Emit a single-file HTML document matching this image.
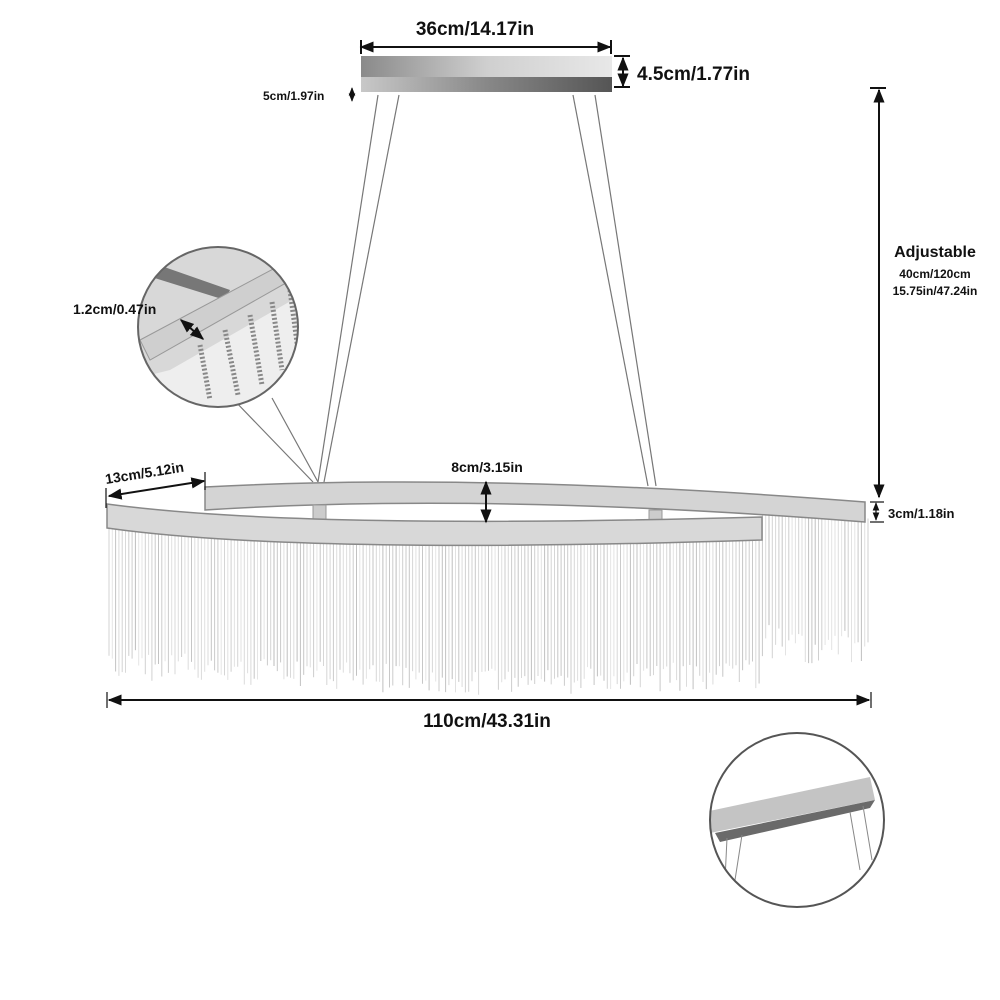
<!DOCTYPE html>
<html><head><meta charset="utf-8"><style>
html,body{margin:0;padding:0;background:#fff;width:1000px;height:1000px;overflow:hidden}
svg{display:block}
text{font-family:"Liberation Sans",sans-serif;font-weight:bold;fill:#111}
</style></head><body>
<svg id="s" width="1000" height="1000" viewBox="0 0 1000 1000" xmlns="http://www.w3.org/2000/svg">
<defs>
<marker id="a" viewBox="0 0 10 10" refX="9" refY="5" markerWidth="7" markerHeight="7" orient="auto-start-reverse"><path d="M0,1 L10,5 L0,9 z" fill="#111"/></marker>
<linearGradient id="cg" x1="0" x2="1"><stop offset="0" stop-color="#8a8a8a"/><stop offset="0.5" stop-color="#cfcfcf"/><stop offset="1" stop-color="#e8e8e8"/></linearGradient>
<linearGradient id="cb" x1="0" x2="1"><stop offset="0" stop-color="#c8c8c8"/><stop offset="0.5" stop-color="#888"/><stop offset="1" stop-color="#555"/></linearGradient>
<clipPath id="c1"><circle cx="218" cy="327" r="80"/></clipPath>
<clipPath id="c2"><circle cx="797" cy="820" r="87"/></clipPath>
</defs>
<g id="fr" stroke-width="1"></g>
<g stroke="#777" stroke-width="1.2" fill="none">
<line x1="378" y1="95" x2="318" y2="482"/><line x1="399" y1="95" x2="324" y2="482"/>
<line x1="573" y1="95" x2="648" y2="486"/><line x1="595" y1="95" x2="656" y2="486"/>
<line x1="232" y1="398" x2="313" y2="482"/><line x1="272" y1="398" x2="318" y2="482"/>
</g>
<path d="M205,487 Q485,472 865,502 L865,522 Q485,492 205,510 Z" fill="#d4d4d4" stroke="#888" stroke-width="1.5"/>
<rect x="313" y="505" width="13" height="30" fill="#ccc" stroke="#999"/>
<rect x="649" y="510" width="13" height="30" fill="#ccc" stroke="#999"/>
<path d="M107,504 Q300,530 762,517 L762,540 Q300,555 107,528 Z" fill="#d8d8d8" stroke="#888" stroke-width="1.5"/>
<rect x="361" y="56" width="251" height="22" fill="url(#cg)"/>
<rect x="361" y="77" width="251" height="15" fill="url(#cb)"/>
<g stroke="#111" stroke-width="2" fill="none">
<line x1="361" y1="47" x2="610" y2="47" marker-start="url(#a)" marker-end="url(#a)"/>
<line x1="361" y1="40" x2="361" y2="54"/><line x1="611" y1="40" x2="611" y2="54"/>
<line x1="623" y1="58" x2="623" y2="86" marker-start="url(#a)" marker-end="url(#a)"/>
<line x1="614" y1="56" x2="630" y2="56"/><line x1="614" y1="87" x2="630" y2="87"/>
<line x1="352" y1="88" x2="352" y2="101" stroke-width="1.2" marker-start="url(#a)" marker-end="url(#a)"/>
<line x1="879" y1="90" x2="879" y2="497" marker-start="url(#a)" marker-end="url(#a)"/>
<line x1="870" y1="88" x2="886" y2="88"/>
<line x1="876" y1="503" x2="876" y2="520" stroke-width="1.2" marker-start="url(#a)" marker-end="url(#a)"/>
<line x1="870" y1="502" x2="884" y2="502" stroke-width="1.2"/><line x1="870" y1="522" x2="884" y2="522" stroke-width="1.2"/>
<line x1="486" y1="482" x2="486" y2="522" marker-start="url(#a)" marker-end="url(#a)"/>
<line x1="109" y1="496" x2="204" y2="481" marker-start="url(#a)" marker-end="url(#a)"/>
<line x1="106" y1="488" x2="106" y2="508" stroke-width="1.2"/><line x1="205" y1="472" x2="205" y2="490" stroke-width="1.2"/>
<line x1="109" y1="700" x2="869" y2="700" marker-start="url(#a)" marker-end="url(#a)"/>
<line x1="107" y1="692" x2="107" y2="708" stroke-width="1.2"/><line x1="871" y1="692" x2="871" y2="708" stroke-width="1.2"/>
</g>
<g clip-path="url(#c1)">
<rect x="130" y="240" width="180" height="180" fill="#eee"/>
<path d="M130,270 L230,240 L310,240 L310,290 L170,370 L130,380 Z" fill="#d8d8d8"/>
<path d="M150,262 L230,290 L225,300 L145,275 Z" fill="#777"/>
<path d="M140,340 L290,260 L300,275 L150,360 Z" fill="#cfcfcf" stroke="#999"/>
<g stroke="#888" stroke-width="5" stroke-dasharray="2 2">
<line x1="200" y1="345" x2="210" y2="400"/><line x1="225" y1="330" x2="238" y2="395"/><line x1="250" y1="315" x2="262" y2="385"/><line x1="272" y1="302" x2="282" y2="370"/><line x1="290" y1="290" x2="298" y2="350"/>
</g>
</g>
<circle cx="218" cy="327" r="80" fill="none" stroke="#666" stroke-width="2"/>
<line x1="181" y1="320" x2="203" y2="339" stroke="#111" stroke-width="2" marker-start="url(#a)" marker-end="url(#a)"/>
<g clip-path="url(#c2)">
<path d="M700,813 L870,777 L875,800 L700,835 Z" fill="#c4c4c4"/>
<path d="M715,833 L875,800 L870,808 L720,842 Z" fill="#6a6a6a"/>
<g stroke="#888" stroke-width="1"><line x1="727" y1="838" x2="725" y2="880"/><line x1="742" y1="835" x2="735" y2="880"/><line x1="850" y1="812" x2="860" y2="870"/><line x1="863" y1="806" x2="872" y2="860"/></g>
</g>
<circle cx="797" cy="820" r="87" fill="none" stroke="#555" stroke-width="2"/>
<text x="475" y="35" font-size="19" text-anchor="middle">36cm/14.17in</text>
<text x="637" y="80" font-size="19">4.5cm/1.77in</text>
<text x="263" y="100" font-size="12">5cm/1.97in</text>
<text x="935" y="257" font-size="16" text-anchor="middle">Adjustable</text>
<text x="935" y="278" font-size="12" text-anchor="middle">40cm/120cm</text>
<text x="935" y="295" font-size="12" text-anchor="middle">15.75in/47.24in</text>
<text x="888" y="518" font-size="13">3cm/1.18in</text>
<text x="487" y="472" font-size="14" text-anchor="middle">8cm/3.15in</text>
<text x="106" y="484" font-size="14" transform="rotate(-9 106 484)">13cm/5.12in</text>
<text x="73" y="314" font-size="14">1.2cm/0.47in</text>
<text x="487" y="727" font-size="19" text-anchor="middle">110cm/43.31in</text>
</svg>
<script>
(function(){
var g=document.getElementById('fr'),ns='http://www.w3.org/2000/svg';
function yl(x){var t=(x-107)/655;if(t>1)t=1;return 528+17*Math.sin(t*Math.PI*0.8);}
function yu(x){var t=(x-205)/660;return 510-7*Math.sin(t*Math.PI*0.6)+(t>0.5?(t-0.5)*30:0);}
var r=1;function rnd(){r=(r*9301+49297)%233280;return r/233280;}
for(var x=109;x<868;x+=3.3){
 var top=x<762?yl(x):yu(x);
 var len=x<762?120+rnd()*30:110+rnd()*40;
 var c=Math.floor(190+rnd()*40);
 var l=document.createElementNS(ns,'line');
 l.setAttribute('x1',x.toFixed(1));l.setAttribute('x2',x.toFixed(1));
 l.setAttribute('y1',top.toFixed(1));l.setAttribute('y2',(top+len).toFixed(1));
 l.setAttribute('stroke','rgb('+c+','+c+','+c+')');
 g.appendChild(l);
}
})();
</script>
</body></html>
